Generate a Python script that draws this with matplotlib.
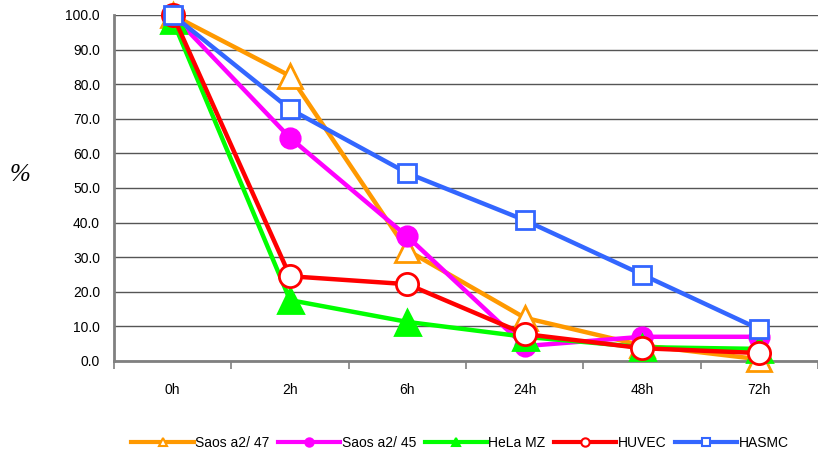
import matplotlib
matplotlib.use("Agg")
import matplotlib.pyplot as plt
from matplotlib.lines import Line2D

categories = ["0h", "2h", "6h", "24h", "48h", "72h"]
saos47 = [100.0, 82.4, 32.0, 12.5, 4.5, 0.5]
saos45 = [100.0, 64.5, 36.0, 4.3, 7.0, 7.0]
hela = [98.5, 17.6, 11.3, 7.0, 4.0, 3.5]
huvec = [100.0, 24.5, 22.2, 7.8, 3.7, 2.3]
hasmc = [100.0, 72.8, 54.3, 40.7, 25.0, 9.2]
yticks = [0, 10, 20, 30, 40, 50, 60, 70, 80, 90, 100]

plt.rcParams["font.family"] = ["Liberation Sans", "DejaVu Sans"]

fig = plt.figure(figsize=(8.18, 4.54), dpi=100)
ax = fig.add_axes([114 / 818, 93 / 454, 704 / 818, 346 / 454])

x = list(range(len(categories)))
series = [
    ("Saos a2/ 47", saos47, "#FF9900", "^", "white", 17),
    ("Saos a2/ 45", saos45, "#FF00FF", "o", "#FF00FF", 14),
    ("HeLa MZ", hela, "#00FF00", "^", "#00FF00", 18),
    ("HUVEC", huvec, "#FF0000", "o", "white", 16),
    ("HASMC", hasmc, "#3366FF", "s", "white", 13),
]

handles = []
for name, vals, col, mk, mfc, ms in series:
    ax.plot(x, vals, color=col, lw=3.2, marker=mk, markersize=ms,
            markerfacecolor=mfc, markeredgecolor=col, markeredgewidth=2,
            clip_on=False, zorder=3)
    handles.append(Line2D([0], [0], color=col, lw=3, marker=mk, markersize=6,
                          markerfacecolor=mfc, markeredgecolor=col,
                          markeredgewidth=1.5, label=name))

ax.set_xlim(-0.5, 5.42)
ax.set_ylim(0, 100)
ax.set_yticks(yticks)
ax.set_yticklabels([f"{v:.1f}" for v in yticks], fontsize=10)
ax.yaxis.grid(True, color="#555555", lw=1)
ax.set_axisbelow(True)
ax.tick_params(axis="y", length=0, pad=10)

ax.set_xticks(x)
ax.set_xticklabels(categories, fontsize=10)
ax.set_xticks([i - 0.5 for i in range(7)], minor=True)
ax.tick_params(axis="x", which="major", length=0, pad=16)
ax.tick_params(axis="x", which="minor", length=6, width=1.2, color="#808080",
               direction="out")

for s in ["top", "right"]:
    ax.spines[s].set_visible(False)
for s in ["left", "bottom"]:
    ax.spines[s].set_color("#808080")
    ax.spines[s].set_linewidth(2)

fig.text(20 / 818, 1 - 175 / 454, "%", fontsize=18, family="Liberation Serif",
         style="italic", ha="center", va="center")

fig.legend(handles=handles, loc="center", bbox_to_anchor=(460 / 818, 1 - 443 / 454),
           ncol=5, frameon=False, fontsize=10, handlelength=4.5,
           handletextpad=0.1, columnspacing=0.6)

fig.savefig("out.png", dpi=100)
